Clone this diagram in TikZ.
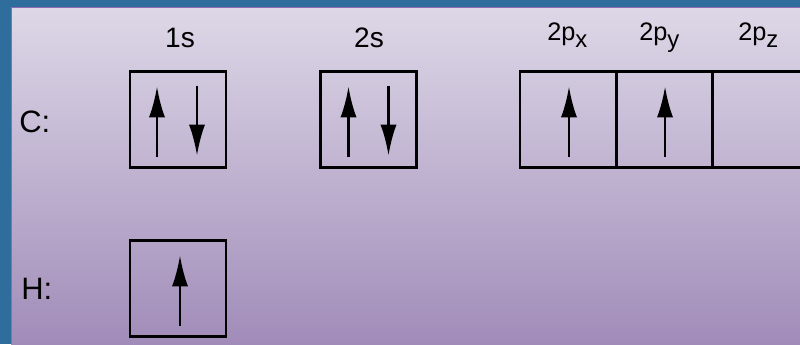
\documentclass[tikz,border=0pt]{standalone}
\usepackage{fontspec}
\setmainfont{Liberation Sans}
\usetikzlibrary{arrows.meta,positioning}
\definecolor{frameblue}{HTML}{2F6E9C}
\definecolor{paneltop}{HTML}{DDD8E7}
\definecolor{panelbot}{HTML}{A18CB9}
\definecolor{paneledge}{HTML}{8E6BB0}
% lowered subscript on the p labels
\newcommand{\psub}[1]{\raisebox{-5pt}{\fontsize{17}{20}\selectfont #1}}

\begin{document}
\begin{tikzpicture}[x=0.025cm,y=-0.025cm,
  orb/.style={draw,line width=2.1pt,minimum width=2.4cm,minimum height=2.4cm,outer sep=0pt,inner sep=0pt},
  spin/.style={-{Latex[length=22pt,width=11.5pt]},line width=1.8pt},
  lbl/.style={inner sep=0pt,font=\fontsize{20}{24}\selectfont},
  atom/.style={inner sep=0pt,font=\fontsize{22}{26}\selectfont},
  plbl/.style={inner sep=0pt,font=\fontsize{18}{22}\selectfont}]
% frame and shaded panel
\useasboundingbox (0,0) rectangle (800,344);
\fill[frameblue] (0,0) rectangle (800,344);
\shade[top color=paneltop,bottom color=panelbot] (11,7) rectangle (800,344);
\draw[paneledge,line width=1pt] (11.4,344) -- (11.4,7.4) -- (800,7.4);
% orbital headings
\node[lbl,anchor=base] (t1s) at (180,47) {1s};
\node[lbl,anchor=base] (t2s) at (369,47) {2s};
\node[plbl,anchor=base west] (t2px) at (547,40) {2p\psub{x}};
\node[plbl,anchor=base west] (t2py) at (639,40) {2p\psub{y}};
\node[plbl,anchor=base west] (t2pz) at (738,40) {2p\psub{z}};
% atoms
\node[atom,anchor=base west] (carbon) at (19,132) {C:};
\node[atom,anchor=base west] (hydrogen) at (21,299) {H:};
% boxes
\node[orb] (c1s) at (178,119.5) {};
\node[orb] (c2s) at (368.5,119.5) {};
\node[orb] (c2px) at (568,119.5) {};
\node[orb,right=0pt of c2px] (c2py) {};
\node[orb,right=0pt of c2py] (c2pz) {};
\node[orb] (h1s) at (178,288.5) {};
% electrons
\draw[spin] ([shift={(-21,37)}]c1s.center) -- ([shift={(-21,-33)}]c1s.center);
\draw[spin] ([shift={(19,-34)}]c1s.center) -- ([shift={(19,36)}]c1s.center);
\draw[spin] ([shift={(-20,37)}]c2s.center) -- ([shift={(-20,-33)}]c2s.center);
\draw[spin] ([shift={(20,-34)}]c2s.center) -- ([shift={(20,36)}]c2s.center);
\draw[spin] ([shift={(1,37)}]c2px.center) -- ([shift={(1,-33)}]c2px.center);
\draw[spin] ([shift={(1,37)}]c2py.center) -- ([shift={(1,-33)}]c2py.center);
\draw[spin] ([shift={(2,37)}]h1s.center) -- ([shift={(2,-33)}]h1s.center);
\end{tikzpicture}
\end{document}
